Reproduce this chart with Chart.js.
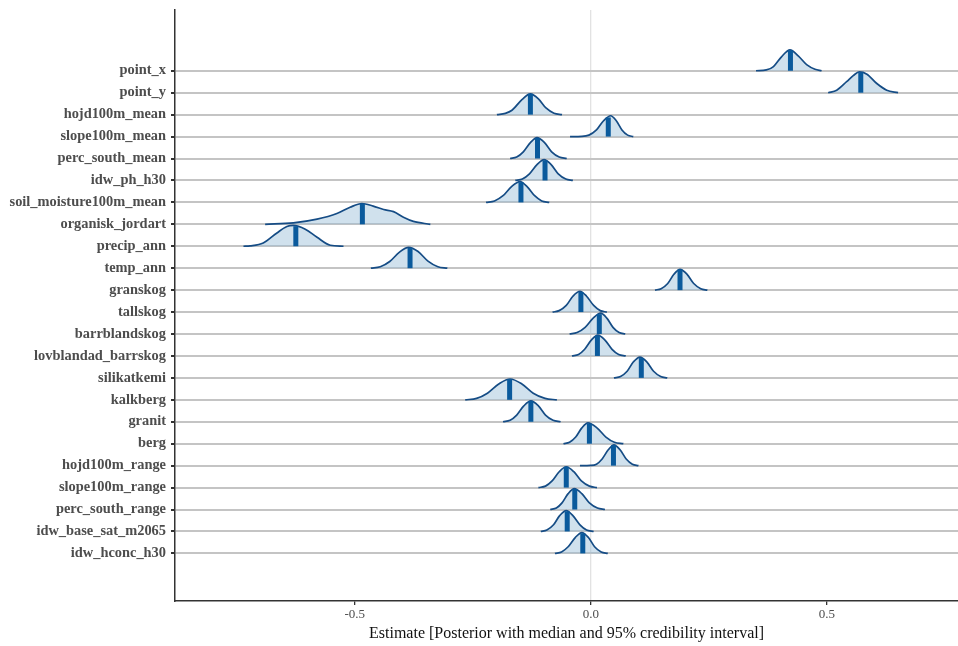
<!DOCTYPE html>
<html>
<head>
<meta charset="utf-8">
<script src="https://cdn.jsdelivr.net/npm/chart.js@4.4.1/dist/chart.umd.min.js"></script>
<style>
  body { margin: 0; background: #fff; }
  #wrap { width: 958px; height: 646px; }
</style>
</head>
<body>
<div id="wrap"><canvas id="ridgeChart" width="958" height="646"></canvas></div>
<script>
// variables, top to bottom
var variables = ['point_x', 'point_y', 'hojd100m_mean', 'slope100m_mean', 'perc_south_mean', 'idw_ph_h30',
  'soil_moisture100m_mean', 'organisk_jordart', 'precip_ann', 'temp_ann', 'granskog', 'tallskog',
  'barrblandskog', 'lovblandad_barrskog', 'silikatkemi', 'kalkberg', 'granit', 'berg',
  'hojd100m_range', 'slope100m_range', 'perc_south_range', 'idw_base_sat_m2065', 'idw_hconc_h30'];

// posterior medians
var medians = [0.423, 0.572, -0.128, 0.037, -0.113, -0.097, -0.148, -0.484, -0.625, -0.383, 0.189, -0.021,
  0.018, 0.014, 0.107, -0.172, -0.127, -0.003, 0.048, -0.052, -0.034, -0.050, -0.017];

// posterior density shapes: [estimate, relative height]
var curves = [
  [[0.350,0],[0.372,0.04],[0.387,0.2],[0.404,0.67],[0.422,1],[0.440,0.7],[0.458,0.28],[0.475,0.07],[0.489,0]],
  [[0.503,0],[0.521,0.12],[0.542,0.53],[0.556,0.82],[0.569,1],[0.585,0.89],[0.606,0.44],[0.627,0.12],[0.651,0]],
  [[-0.199,0],[-0.181,0.06],[-0.167,0.21],[-0.146,0.72],[-0.128,1],[-0.111,0.76],[-0.095,0.32],[-0.078,0.07],[-0.061,0]],
  [[-0.044,0],[-0.019,0.01],[-0.004,0.07],[0.012,0.32],[0.027,0.76],[0.042,1],[0.054,0.76],[0.066,0.32],[0.078,0.07],[0.090,0]],
  [[-0.171,0],[-0.157,0.07],[-0.143,0.32],[-0.128,0.76],[-0.114,1],[-0.098,0.76],[-0.083,0.32],[-0.067,0.07],[-0.051,0]],
  [[-0.160,0],[-0.145,0.07],[-0.130,0.32],[-0.114,0.76],[-0.099,1],[-0.084,0.76],[-0.069,0.32],[-0.053,0.07],[-0.038,0]],
  [[-0.222,0],[-0.204,0.07],[-0.186,0.32],[-0.168,0.76],[-0.150,1],[-0.135,0.76],[-0.119,0.32],[-0.104,0.07],[-0.088,0]],
  [[-0.690,0],[-0.630,0.07],[-0.580,0.25],[-0.538,0.52],[-0.510,0.82],[-0.485,1],[-0.461,0.875],[-0.439,0.71],[-0.418,0.61],[-0.397,0.34],[-0.376,0.14],[-0.340,0]],
  [[-0.736,0],[-0.722,0.02],[-0.694,0.16],[-0.665,0.64],[-0.644,0.95],[-0.630,1],[-0.605,0.82],[-0.580,0.43],[-0.552,0.05],[-0.524,0]],
  [[-0.466,0],[-0.446,0.07],[-0.426,0.32],[-0.406,0.76],[-0.386,1],[-0.366,0.8],[-0.345,0.34],[-0.324,0.07],[-0.304,0]],
  [[0.136,0],[0.149,0.07],[0.163,0.32],[0.176,0.76],[0.189,1],[0.204,0.76],[0.218,0.32],[0.233,0.07],[0.247,0]],
  [[-0.081,0],[-0.067,0.07],[-0.052,0.32],[-0.038,0.76],[-0.023,1],[-0.009,0.76],[0.006,0.32],[0.020,0.07],[0.034,0]],
  [[-0.045,0],[-0.029,0.07],[-0.012,0.32],[0.005,0.76],[0.021,1],[0.034,0.76],[0.047,0.32],[0.060,0.07],[0.073,0]],
  [[-0.040,0],[-0.026,0.07],[-0.013,0.32],[0.001,0.76],[0.015,1],[0.030,0.76],[0.045,0.32],[0.059,0.07],[0.074,0]],
  [[0.049,0],[0.063,0.07],[0.077,0.32],[0.090,0.76],[0.104,1],[0.119,0.76],[0.133,0.32],[0.148,0.07],[0.162,0]],
  [[-0.266,0],[-0.242,0.07],[-0.219,0.32],[-0.195,0.76],[-0.171,1],[-0.146,0.76],[-0.122,0.32],[-0.097,0.07],[-0.072,0]],
  [[-0.186,0],[-0.171,0.07],[-0.157,0.32],[-0.142,0.76],[-0.127,1],[-0.111,0.76],[-0.096,0.32],[-0.080,0.07],[-0.064,0]],
  [[-0.058,0],[-0.045,0.07],[-0.032,0.32],[-0.019,0.76],[-0.006,1],[0.013,0.76],[0.032,0.32],[0.050,0.07],[0.069,0]],
  [[-0.023,0],[-0.001,0.01],[0.012,0.07],[0.024,0.32],[0.037,0.76],[0.049,1],[0.062,0.76],[0.075,0.32],[0.088,0.07],[0.101,0]],
  [[-0.111,0],[-0.096,0.07],[-0.082,0.32],[-0.067,0.76],[-0.052,1],[-0.036,0.76],[-0.020,0.32],[-0.003,0.07],[0.013,0]],
  [[-0.086,0],[-0.073,0.07],[-0.061,0.32],[-0.048,0.76],[-0.035,1],[-0.019,0.76],[-0.003,0.32],[0.014,0.07],[0.030,0]],
  [[-0.106,0],[-0.093,0.07],[-0.079,0.32],[-0.066,0.76],[-0.052,1],[-0.038,0.76],[-0.023,0.32],[-0.009,0.07],[0.006,0]],
  [[-0.076,0],[-0.062,0.07],[-0.048,0.32],[-0.033,0.76],[-0.019,1],[-0.005,0.76],[0.008,0.32],[0.022,0.07],[0.036,0]]
];

var xTicks = [-0.5, 0, 0.5];
var ridgeHeight = 0.95; // peak height in row units

Chart.defaults.font.family = "'Liberation Serif', 'DejaVu Serif', serif";

function heightAt(curve, x) {
  for (var i = 0; i < curve.length - 1; i++) {
    var a = curve[i], b = curve[i + 1];
    if (x >= a[0] && x <= b[0]) {
      return a[1] + (b[1] - a[1]) * (x - a[0]) / (b[0] - a[0]);
    }
  }
  return 0;
}

var n = variables.length;
var datasets = [];
variables.forEach(function (name, i) {
  var base = n - 1 - i;
  datasets.push({
    label: name,
    data: curves[i].map(function (p) { return { x: p[0], y: base + p[1] * ridgeHeight }; }),
    borderColor: '#154c85',
    borderWidth: 1.7,
    backgroundColor: 'rgba(150,188,214,0.45)',
    fill: { value: base },
    pointRadius: 0,
    cubicInterpolationMode: 'monotone',
    order: 2
  });
  var hm = heightAt(curves[i], medians[i]);
  datasets.push({
    label: name + ' median',
    data: [{ x: medians[i], y: base }, { x: medians[i], y: base + hm * ridgeHeight }],
    borderColor: '#0a5a9c',
    borderWidth: 5,
    borderCapStyle: 'butt',
    fill: false,
    pointRadius: 0,
    order: 1
  });
});

var ridgeCanvas = document.getElementById('ridgeChart').getContext('2d');
var ridgeChart = new Chart(ridgeCanvas, {
  type: 'line',
  data: { datasets: datasets },
  options: {
    responsive: false,
    animation: false,
    layout: { padding: { top: 10, right: 0, left: 0, bottom: 0 } },
    plugins: { legend: { display: false }, tooltip: { enabled: false } },
    scales: {
      x: {
        type: 'linear',
        min: -0.881,
        max: 0.778,
        afterBuildTicks: function (s) { s.ticks = xTicks.map(function (v) { return { value: v }; }); },
        afterFit: function (s) { s.height = 45; s.paddingLeft = 0; s.paddingRight = 0; },
        grid: {
          color: function (c) { return c.tick && c.tick.value === 0 ? '#e2e2e2' : 'rgba(0,0,0,0)'; },
          lineWidth: 1.3,
          tickColor: '#333',
          tickLength: 4,
          tickWidth: 1.3
        },
        border: { color: '#333', width: 1.5 },
        ticks: {
          color: '#4d4d4d',
          font: { size: 13 },
          padding: 2,
          maxRotation: 0,
          callback: function (v) { return v.toFixed(1); }
        },
        title: {
          display: true,
          text: 'Estimate [Posterior with median and 95% credibility interval]',
          color: '#111',
          font: { size: 16 },
          padding: { top: 0, bottom: 3 }
        }
      },
      y: {
        type: 'linear',
        min: -2.17,
        max: 24.77,
        z: 1,
        afterBuildTicks: function (s) { s.ticks = variables.map(function (_, i) { return { value: i }; }); },
        afterFit: function (s) { s.width = 175; s.paddingTop = 0; s.paddingBottom = 0; },
        grid: {
          color: '#c4c4c4',
          lineWidth: 2,
          tickColor: '#333',
          tickLength: 4,
          tickWidth: 2
        },
        border: { color: '#333', width: 1.5 },
        ticks: {
          color: '#4d4d4d',
          font: { size: 14.4, weight: 'bold' },
          padding: 5,
          autoSkip: false,
          callback: function (v) { return variables[n - 1 - v]; }
        }
      }
    }
  }
});
</script>
</body>
</html>
